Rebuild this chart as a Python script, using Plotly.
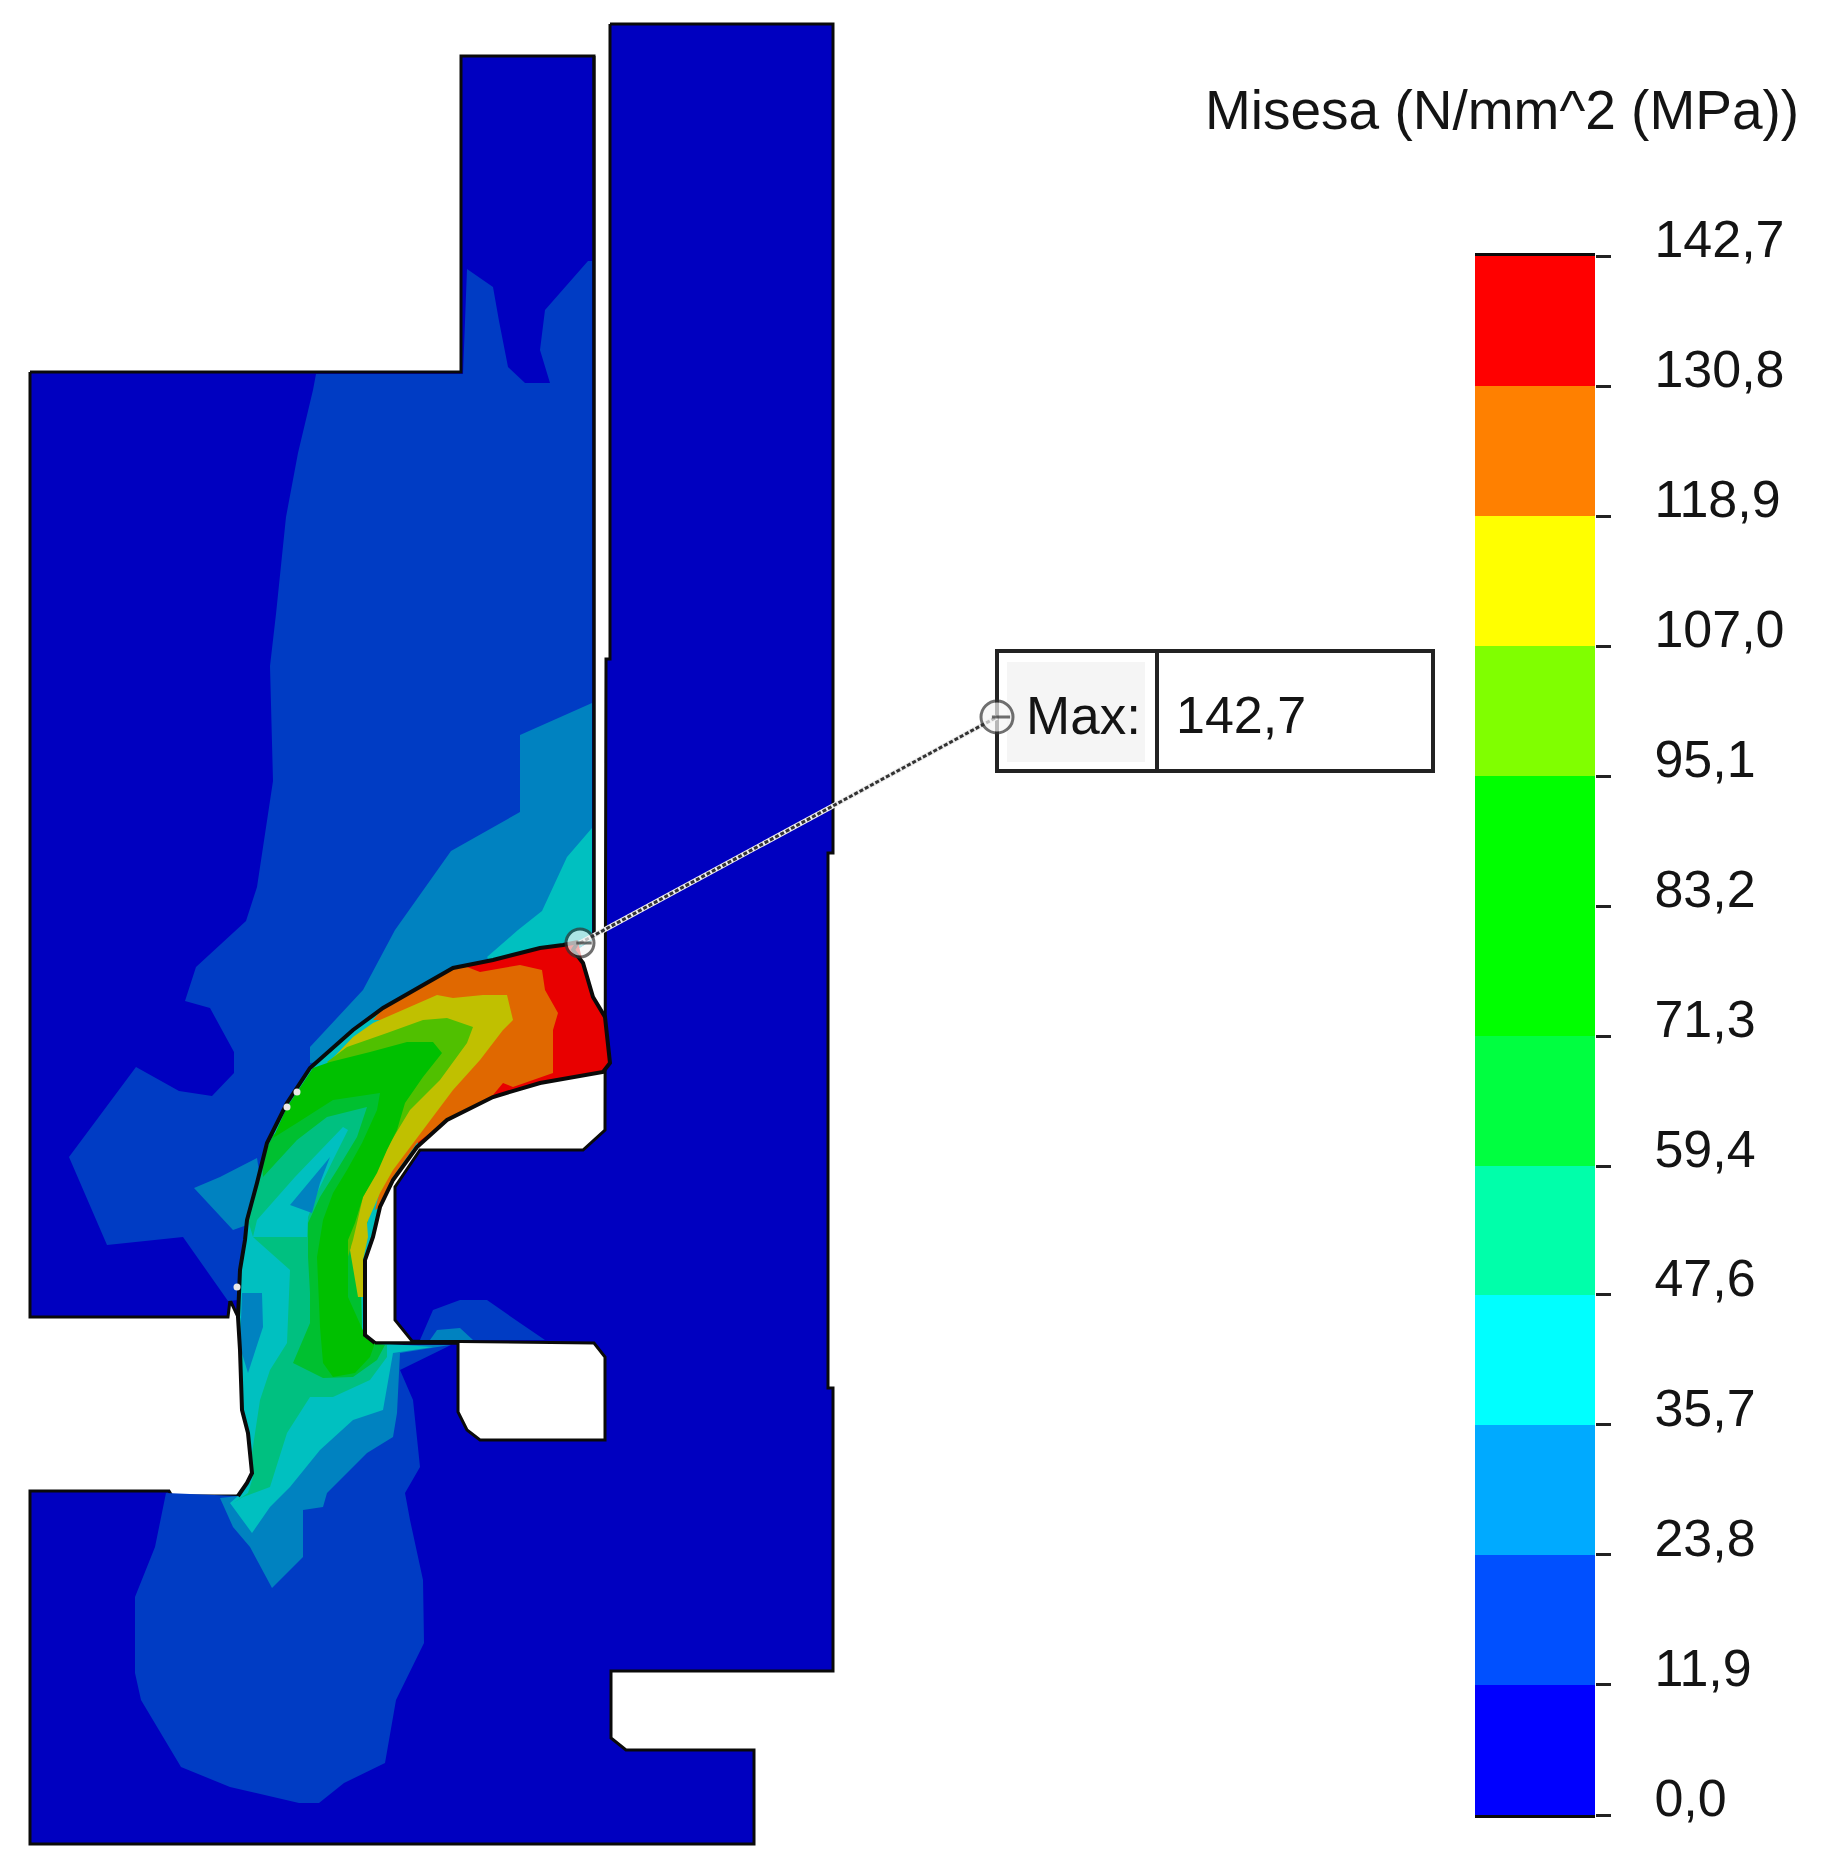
"""Von Mises contour plot of a seal section with its stepped colour scale."""

import numpy as np
import plotly.graph_objects as go

# Colour scale: band edges, labels and colours from the picture
scale_edges = [0.0, 11.9, 23.8, 35.7, 47.6, 59.4, 71.3, 83.2, 95.1, 107.0, 118.9, 130.8, 142.7]
scale_labels = ["0,0", "11,9", "23,8", "35,7", "47,6", "59,4", "71,3", "83,2", "95,1", "107,0", "118,9", "130,8", "142,7"]
scale_colors = [
    "#0000ff", "#0050ff", "#00aaff", "#00ffff", "#00ffaa", "#00ff40",
    "#00ff00", "#00ff00", "#80ff00", "#ffff00", "#ff8000", "#ff0000",
]

# Shaded colours used on the model itself
BASE = "#0000c0"
LOW1 = "#003cc4"
LOW2 = "#0082c0"
LOW3 = "#00c0c0"
MID1 = "#00c080"
MID2 = "#00c030"
MID3 = "#00c000"
HIGH1 = "#50c000"
HIGH2 = "#c0c000"
HIGH3 = "#e06800"
HIGH4 = "#e80000"

# Seal edges
seal_outer = [
    (578, 942), (563, 945), (540, 948), (493, 960), (453, 968), (420, 987), (383, 1008), (353, 1030),
    (330, 1050), (310, 1068), (287, 1103), (267, 1143), (257, 1183), (247, 1220), (245, 1240), (240, 1270),
    (238, 1317), (240, 1350), (242, 1410), (248, 1433), (252, 1473), (247, 1483), (238, 1496),
]
seal_inner = [
    (375, 1343), (365, 1335), (365, 1260), (373, 1237), (380, 1207), (393, 1180), (417, 1147), (447, 1120),
    (493, 1097), (540, 1083), (603, 1072), (610, 1063), (605, 1017), (593, 997), (583, 963), (573, 950),
    (578, 942),
]
seal_tail = [
    (230, 1503), (252, 1533), (270, 1507), (290, 1487), (320, 1450), (353, 1420), (383, 1410), (393, 1353), (433, 1347),
]

# Solid bodies
upper_body = [(30, 372), (461, 372), (461, 56), (594, 56), (594, 935)] + seal_outer[:17] + [(230, 1300), (228, 1317), (30, 1317)]
lower_body = [
    (610, 24), (833, 24), (833, 853), (828, 853), (828, 1388), (833, 1388), (833, 1671), (611, 1671),
    (611, 1738), (626, 1750), (754, 1750), (754, 1844), (30, 1844), (30, 1491), (169, 1491), (172, 1496),
    (238, 1496), (375, 1343), (458, 1343), (458, 1412), (467, 1430), (480, 1440), (605, 1440), (605, 1357),
    (594, 1343), (412, 1341), (395, 1320), (395, 1187), (420, 1150), (583, 1150), (605, 1130), (606, 659),
    (610, 659),
]

# Contour regions outside the seal; their seal side runs under the seal fill
upper_low1 = [
    (467, 269), (493, 287), (499, 321), (508, 367), (525, 383), (550, 383), (540, 350), (545, 310),
    (588, 261), (592, 261), (592, 940), (560, 960), (430, 1000), (320, 1075), (270, 1160), (250, 1280),
    (238, 1300), (228, 1301), (183, 1237), (107, 1245), (69, 1157), (136, 1067), (179, 1091), (212, 1096),
    (234, 1073), (234, 1052), (210, 1008), (185, 1001), (196, 967), (246, 921), (257, 887), (273, 781),
    (270, 666), (276, 614), (286, 517), (298, 453), (313, 390), (316, 374), (463, 374),
]
upper_low2 = [
    (592, 703), (520, 735), (520, 812), (451, 851), (395, 930), (363, 990), (310, 1047), (310, 1063),
    (340, 1060), (430, 1000), (560, 960), (592, 940),
]
upper_low3 = [(592, 828), (567, 857), (542, 911), (518, 930), (487, 957), (500, 975), (560, 960), (592, 940)]
left_low2 = [(194, 1188), (220, 1177), (257, 1158), (262, 1190), (247, 1225), (233, 1230)]
block_low1 = [(420, 1340), (433, 1310), (460, 1300), (487, 1300), (520, 1323), (545, 1340)]
block_low2 = [(430, 1340), (437, 1330), (460, 1328), (473, 1340)]
lower_low1 = [
    (166, 1493), (155, 1547), (135, 1597), (135, 1673), (141, 1700), (181, 1767), (230, 1787), (299, 1803),
    (319, 1803), (344, 1783), (385, 1763), (396, 1700), (424, 1643), (423, 1580), (410, 1520), (405, 1493),
    (420, 1467), (413, 1400), (400, 1370), (451, 1345), (375, 1345), (238, 1496),
]
lower_low2 = [
    (220, 1498), (233, 1527), (250, 1547), (272, 1588), (303, 1557), (303, 1510), (323, 1507), (327, 1493),
    (367, 1453), (393, 1437), (397, 1413), (400, 1353), (450, 1345), (375, 1345), (238, 1496),
]

# Contour regions inside the seal, painted in this order
seal_mid1 = [
    (262, 1160), (297, 1120), (367, 1097), (387, 1090), (400, 1100), (360, 1250), (362, 1330), (368, 1342),
    (387, 1345), (387, 1357), (370, 1380), (333, 1397), (310, 1397), (287, 1433), (270, 1487), (243, 1497),
    (233, 1503), (248, 1493), (253, 1477), (252, 1453), (260, 1400), (270, 1370), (287, 1343), (290, 1270),
    (253, 1237), (247, 1217), (257, 1187),
]
seal_mid2 = [
    (262, 1160), (273, 1135), (333, 1090), (385, 1088), (400, 1100), (360, 1250), (362, 1330), (368, 1342),
    (385, 1345), (377, 1360), (353, 1377), (323, 1378), (293, 1363), (310, 1323), (310, 1293), (308, 1257),
    (308, 1223), (320, 1197), (337, 1170), (357, 1137), (367, 1107), (327, 1117), (297, 1140), (263, 1177),
]
seal_low3 = [
    (257, 1220), (295, 1177), (343, 1127), (348, 1130), (333, 1160), (317, 1193), (308, 1217), (307, 1237), (253, 1237),
]
seal_low2_inner = [(290, 1205), (330, 1157), (320, 1183), (312, 1213)]
seal_low2_left = [(242, 1293), (262, 1293), (263, 1327), (248, 1373), (240, 1347)]
seal_high4 = [
    (453, 968), (493, 960), (540, 948), (563, 945), (578, 942), (583, 963), (593, 997), (605, 1017),
    (610, 1063), (603, 1072), (540, 1083), (493, 1097), (447, 1120), (417, 1147),
]
seal_high3 = [
    (373, 1020), (383, 1008), (420, 987), (453, 968), (467, 967), (480, 972), (520, 965), (542, 970),
    (545, 990), (558, 1013), (553, 1030), (553, 1073), (513, 1087), (503, 1083), (493, 1095), (450, 1118),
    (417, 1143), (393, 1177), (380, 1207), (375, 1210), (390, 1150), (450, 1050), (420, 1020),
]
seal_high2 = [
    (333, 1058), (353, 1037), (373, 1023), (407, 1008), (437, 995), (453, 998), (483, 995), (507, 995),
    (513, 1020), (503, 1030), (480, 1060), (453, 1090), (433, 1117), (413, 1143), (393, 1170), (380, 1193),
    (367, 1223), (368, 1237), (363, 1260), (363, 1297), (358, 1297), (350, 1250), (360, 1190), (390, 1130),
    (430, 1075), (460, 1030), (430, 1025), (385, 1035), (340, 1058),
]
seal_high1 = [
    (327, 1062), (347, 1047), (387, 1033), (423, 1020), (447, 1018), (473, 1027), (467, 1043), (440, 1080),
    (410, 1110), (390, 1143), (377, 1170), (363, 1197), (357, 1223), (353, 1240), (347, 1260), (347, 1297),
    (360, 1327), (365, 1335), (345, 1310), (335, 1300), (335, 1240), (350, 1190), (385, 1120), (425, 1060),
    (400, 1060), (340, 1075),
]
seal_mid3 = [
    (313, 1068), (330, 1062), (370, 1052), (407, 1042), (433, 1042), (442, 1053), (423, 1077), (405, 1103),
    (397, 1130), (387, 1150), (377, 1173), (363, 1197), (355, 1223), (348, 1240), (348, 1297), (362, 1327),
    (365, 1335), (375, 1343), (370, 1357), (355, 1373), (333, 1377), (323, 1363), (320, 1327), (317, 1257),
    (323, 1220), (333, 1193), (347, 1170), (362, 1143), (377, 1110), (380, 1093), (333, 1100), (297, 1123),
    (273, 1138), (287, 1107),
]

# Small gaps left along the seal's outer edge
gap_x = [287, 297, 237]
gap_y = [1107, 1092, 1287]

# Callout leader, from the peak to the box
leader_x = [580, 997]
leader_y = [943, 717]

LINE_COLOR = "#0a0a0a"
TEXT_COLOR = "#141414"
FONT = "Liberation Sans"


def add_region(fig, points, color, line_color=None, line_width=0):
    """Add one filled polygon, given as (x, y) pairs."""
    xs, ys = zip(*points)
    fig.add_trace(
        go.Scatter(
            x=list(xs) + [xs[0]],
            y=list(ys) + [ys[0]],
            mode="lines",
            fill="toself",
            fillcolor=color,
            line=dict(color=line_color or color, width=line_width),
            hoverinfo="skip",
            showlegend=False,
        )
    )


def add_outline(fig, points, width=4):
    """Redraw an edge on top of the contour fills."""
    xs, ys = zip(*points)
    fig.add_trace(
        go.Scatter(x=xs, y=ys, mode="lines", line=dict(color=LINE_COLOR, width=width), hoverinfo="skip", showlegend=False)
    )


fig = go.Figure()

add_region(fig, lower_body, BASE, LINE_COLOR, 3)
add_region(fig, upper_body, BASE, LINE_COLOR, 3)

regions = [
    (upper_low1, LOW1), (upper_low2, LOW2), (upper_low3, LOW3), (left_low2, LOW2),
    (block_low1, LOW1), (block_low2, LOW2), (lower_low1, LOW1), (lower_low2, LOW2),
    (seal_outer + seal_tail + seal_inner, LOW3), (seal_mid1, MID1), (seal_mid2, MID2),
    (seal_low3, LOW3), (seal_low2_inner, LOW2), (seal_low2_left, LOW2),
    (seal_high4, HIGH4), (seal_high3, HIGH3), (seal_high2, HIGH2), (seal_high1, HIGH1), (seal_mid3, MID3),
]
for points, color in regions:
    add_region(fig, points, color)

add_outline(fig, seal_outer)
add_outline(fig, seal_inner)
add_outline(fig, [(594, 56), (594, 935)], width=3)
add_outline(fig, [(375, 1343), (458, 1343)], width=3)

fig.add_trace(
    go.Scatter(x=gap_x, y=gap_y, mode="markers", marker=dict(size=7, color="#e8e8e8"), hoverinfo="skip", showlegend=False)
)

# Leader line and the two pick markers
fig.add_trace(
    go.Scatter(x=leader_x, y=leader_y, mode="lines", line=dict(color="#eeeeee", width=5), hoverinfo="skip", showlegend=False)
)
fig.add_trace(
    go.Scatter(x=leader_x, y=leader_y, mode="lines", line=dict(color="#333333", width=3, dash="4px,2px"), hoverinfo="skip", showlegend=False)
)

# Stepped colour scale drawn as a stacked bar on its own axes
band_heights = np.diff(scale_edges)
for height, color in zip(band_heights, scale_colors):
    fig.add_trace(
        go.Bar(
            x=["scale"],
            y=[height],
            width=1,
            marker=dict(color=color, line=dict(width=0)),
            xaxis="x2",
            yaxis="y2",
            hoverinfo="skip",
            showlegend=False,
        )
    )

fig.add_trace(
    go.Scatter(
        x=leader_x,
        y=leader_y,
        mode="markers",
        marker=dict(size=[28, 32], color="#f6f6f6", line=dict(color="#333333", width=3)),
        hoverinfo="skip",
        showlegend=False,
    )
)
fig.add_trace(
    go.Scatter(
        x=[leader_x[0] + 4, leader_x[1] + 4],
        y=leader_y,
        mode="markers",
        marker=dict(symbol="line-ew", size=[11, 13], line=dict(color="#333333", width=3)),
        hoverinfo="skip",
        showlegend=False,
    )
)

fig.update_layout(
    width=1837,
    height=1875,
    margin=dict(l=0, r=0, t=0, b=0, pad=0, autoexpand=False),
    paper_bgcolor="white",
    plot_bgcolor="white",
    barmode="stack",
    bargap=0,
    xaxis=dict(range=[0, 1837], visible=False, domain=[0, 1], automargin=False),
    yaxis=dict(range=[1875, 0], visible=False, domain=[0, 1], automargin=False),
    xaxis2=dict(
        domain=[1475 / 1837, 1595 / 1837],
        anchor="y2",
        showticklabels=False,
        ticks="",
        showgrid=False,
        showline=True,
        linecolor=LINE_COLOR,
        linewidth=3,
        mirror=True,
        automargin=False,
    ),
    yaxis2=dict(
        domain=[60 / 1875, 1619 / 1875],
        anchor="x2",
        side="right",
        range=[0, 142.7],
        tickmode="array",
        tickvals=scale_edges,
        ticktext=scale_labels,
        ticks="outside",
        ticklen=15,
        tickwidth=3,
        tickcolor="#222222",
        showgrid=False,
        showline=False,
        zeroline=False,
        automargin=False,
        ticklabelstandoff=33,
        ticklabelshift=-17,
        tickfont=dict(family=FONT, size=52, color=TEXT_COLOR),
    ),
    shapes=[
        dict(type="rect", xref="x", yref="y", x0=1007, x1=1145, y0=662, y1=762, fillcolor="#f5f5f5", line=dict(width=0), layer="below"),
        dict(type="rect", xref="x", yref="y", x0=997, x1=1433, y0=651, y1=771, line=dict(color="#222222", width=4), layer="below"),
        dict(type="line", xref="x", yref="y", x0=1157, x1=1157, y0=651, y1=771, line=dict(color="#222222", width=4), layer="below"),
    ],
    annotations=[
        dict(text="Misesa (N/mm^2 (MPa))", x=1203, y=110, xref="x", yref="y", xanchor="left", yanchor="middle", showarrow=False, font=dict(family=FONT, size=55, color=TEXT_COLOR)),
        dict(text="Max:", x=1024, y=715, xref="x", yref="y", xanchor="left", yanchor="middle", showarrow=False, font=dict(family=FONT, size=53, color=TEXT_COLOR)),
        dict(text="142,7", x=1174, y=715, xref="x", yref="y", xanchor="left", yanchor="middle", showarrow=False, font=dict(family=FONT, size=52, color=TEXT_COLOR)),
    ],
)

fig.write_html("out.html", config={"displayModeBar": False}, post_script="document.body.style.margin = '0';")
